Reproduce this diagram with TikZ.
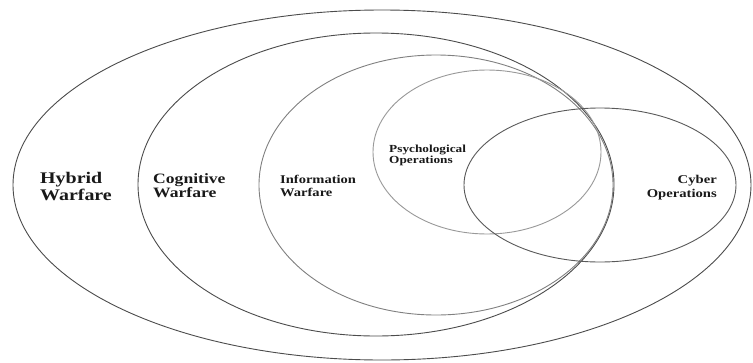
\documentclass[tikz,border=0pt]{standalone}
\usepackage{fontspec}
\setmainfont{Liberation Serif}
\begin{document}
\begin{tikzpicture}[x=1pt,y=-1pt,
  ring/.style={line width=0.9pt},
  lbl/.style={inner sep=0pt, align=left, xscale=1.23, text=black!90},
  lblr/.style={inner sep=0pt, align=right, xscale=1.23, text=black!90}]
\useasboundingbox (0,0) rectangle (753,362);
\fill[white] (0,0) rectangle (753,362);
% ellipses
\draw[ring, draw=black!70] (382,185) ellipse [x radius=369pt, y radius=175pt];
\draw[ring, draw=black!70] (376,184.5) ellipse [x radius=238pt, y radius=151.5pt];
\draw[ring, draw=black!50] (436,185) ellipse [x radius=177pt, y radius=130pt];
\draw[ring, draw=black!40] (487,152) ellipse [x radius=114pt, y radius=82pt];
\draw[ring, draw=black!65] (600,185) ellipse [x radius=136pt, y radius=77pt];
% labels
\node[lbl, anchor=north west, font=\fontsize{16.2}{17}\selectfont\bfseries] (hybrid) at (40,172) {Hybrid\\Warfare};
\node[lbl, anchor=north west, font=\fontsize{14.3}{14}\selectfont\bfseries] (cognitive) at (153,173.3) {Cognitive\\Warfare};
\node[lbl, anchor=north west, font=\fontsize{11.8}{13}\selectfont\bfseries] (information) at (280,175) {Information\\Warfare};
\node[lbl, anchor=north west, font=\fontsize{10.8}{11}\selectfont\bfseries] (psyops) at (389,144.7) {Psychological\\Operations};
\node[lblr, anchor=north east, font=\fontsize{11.9}{14}\selectfont\bfseries] (cyber) at (717,174.9) {Cyber\\Operations};
\end{tikzpicture}
\end{document}
